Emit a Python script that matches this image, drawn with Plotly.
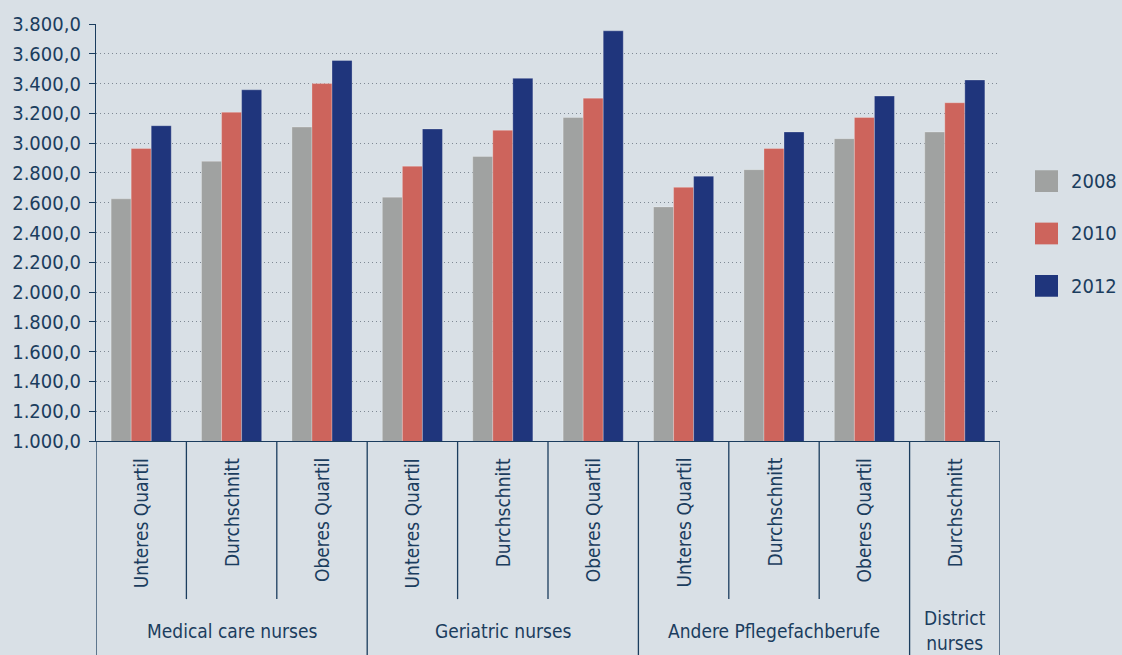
import plotly.graph_objects as go

groups = ["Medical care nurses", "Geriatric nurses", "Andere Pflegefachberufe", "District<br>nurses"]
group_sizes = [3, 3, 3, 1]
subcats = ["Unteres Quartil", "Durchschnitt", "Oberes Quartil",
           "Unteres Quartil", "Durchschnitt", "Oberes Quartil",
           "Unteres Quartil", "Durchschnitt", "Oberes Quartil",
           "Durchschnitt"]
years = ["2008", "2010", "2012"]
v2008 = [2626, 2878, 3108, 2637, 2911, 3172, 2572, 2822, 3030, 3075]
v2010 = [2964, 3207, 3400, 2845, 3086, 3302, 2703, 2964, 3172, 3271]
v2012 = [3117, 3358, 3555, 3095, 3435, 3754, 2778, 3075, 3316, 3424]
colors = ["#a0a2a1", "#cd645c", "#1f357c"]
y_ticks = [1000 + 200 * i for i in range(15)]

FONT = "DejaVu Sans Condensed, Liberation Sans Narrow, sans-serif"
NAVY = "#1b3d5e"
BG = "#d9e0e6"

fig = go.Figure()
xs = list(range(len(subcats)))
for name, vals, col in zip(years, [v2008, v2010, v2012], colors):
    fig.add_trace(go.Bar(x=xs, y=vals, name=name, marker_color=col,
                         marker_line=dict(color="rgba(255,255,255,0.25)", width=1),
                         showlegend=False, hoverinfo="skip"))

shapes = []
annotations = []
H = 655 - 19 - 214  # plot height in px
sub_sep = -(601 - 441) / H
grp_sep = -(660 - 441) / H

# sub-category labels
for i, lab in enumerate(subcats):
    annotations.append(dict(x=i, y=0, xref="x", yref="paper", text=lab, textangle=-90,
                            showarrow=False, xanchor="center", yanchor="top", yshift=-15,
                            font=dict(size=19, color=NAVY, family=FONT)))

# separators
start = 0
group_bounds = [0]
for s in group_sizes:
    start += s
    group_bounds.append(start)
for k in range(len(subcats) + 1):
    is_group = k in group_bounds
    shapes.append(dict(type="line", xref="x", yref="paper", x0=k - 0.5, x1=k - 0.5,
                       y0=0, y1=grp_sep if is_group else sub_sep,
                       line=dict(color=NAVY, width=1.3)))

# group labels
for gi, g in enumerate(groups):
    a, b = group_bounds[gi], group_bounds[gi + 1]
    annotations.append(dict(x=(a + b - 1) / 2, y=-(633 - 441) / H,
                            xref="x", yref="paper", text=g, showarrow=False,
                            xanchor="center", yanchor="middle",
                            font=dict(size=19, color=NAVY, family=FONT)))

# manual legend
W = 1122 - 96 - 122
for j, (name, col) in enumerate(zip(years, colors)):
    yc = 178 + 53 * j
    x0 = (1035 - 96) / W
    x1 = (1058 - 96) / W
    y0 = (441 - (yc + 11)) / H
    y1 = (441 - (yc - 11)) / H
    shapes.append(dict(type="rect", xref="paper", yref="paper", x0=x0, x1=x1, y0=y0, y1=y1,
                       fillcolor=col, line=dict(width=0)))
    annotations.append(dict(x=(1069 - 96) / W, y=(441 - yc) / H, xref="paper", yref="paper",
                            text=name, showarrow=False, xanchor="left", yanchor="middle",
                            font=dict(size=20, color=NAVY, family=FONT)))

fig.update_layout(
    width=1122, height=655,
    margin=dict(l=96, r=122, t=19, b=214, pad=0),
    paper_bgcolor=BG, plot_bgcolor=BG,
    barmode="group", bargap=0.335, bargroupgap=0,
    separators=",.",
    shapes=shapes, annotations=annotations,
    font=dict(family=FONT, color=NAVY, size=19),
    xaxis=dict(range=[-0.5, len(subcats) - 0.5], showticklabels=False, ticks="",
               showgrid=False, zeroline=False, showline=True, linecolor=NAVY, linewidth=1.3),
    yaxis=dict(range=[1000, 3800], tickvals=y_ticks, tickformat=",.1f",
               showgrid=True, gridcolor="#7f8994", griddash="1px,3px", gridwidth=1,
               zeroline=False, showline=True, linecolor=NAVY, linewidth=1.3,
               ticks="outside", ticklen=6, tickcolor=NAVY, tickwidth=1.3,
               ticklabelstandoff=4,
               tickfont=dict(size=20, color=NAVY, family=FONT)),
)

fig.write_html("out.html", config={"displayModeBar": False},
               post_script="document.body.style.margin='0';document.body.style.background='%s';" % BG)
